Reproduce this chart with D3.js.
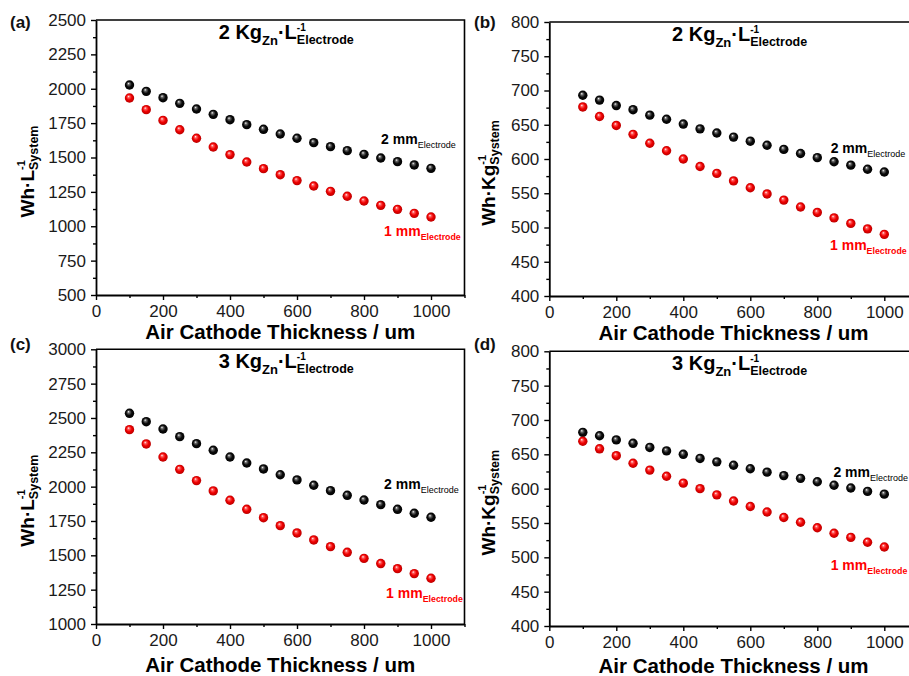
<!DOCTYPE html>
<html><head><meta charset="utf-8">
<script src="https://cdn.jsdelivr.net/npm/d3@7"></script>
<style>
body{margin:0;background:#fff}
svg{display:block}
text{font-family:"Liberation Sans",Arial,Helvetica,sans-serif}
</style>
</head><body>
<svg id="chart" width="909" height="676"></svg>
<script>
// ---------------- data ----------------
const thickness = [100,150,200,250,300,350,400,450,500,550,600,650,700,750,800,850,900,950,1000];

const a2mm = [2027,1981,1935,1894,1853,1814,1775,1739,1705,1671,1640,1608,1579,1550,1523,1496,1470,1446,1421];
const a1mm = [1933,1848,1770,1702,1640,1576,1521,1467,1419,1375,1332,1293,1254,1218,1184,1152,1123,1094,1067];

const b2mm = [693,686,678,672,664,658,651,644,638,632,626,620,614,608,602,596,591,585,581];
const b1mm = [676,662,649,636,623,612,600,589,579,568,558,549,540,530,522,514,506,498,490];

const c2mm = [2534,2473,2420,2364,2313,2265,2216,2172,2129,2087,2049,2010,1971,1937,1903,1869,1835,1806,1777];
const c1mm = [2415,2311,2216,2126,2044,1969,1901,1835,1774,1716,1663,1612,1563,1522,1478,1440,1403,1367,1333];

const d2mm = [682,677,671,666,660,655,650,644,639,634,629,624,619,615,610,605,601,596,592];
const d1mm = [669,658,648,637,627,618,608,600,591,582,574,566,558,551,543,535,529,522,515];

const xTickValues = [0,200,400,600,800,1000];
const xMinorValues = [100,300,500,700,900,1100];
const yTicksA = [500,750,1000,1250,1500,1750,2000,2250,2500];
const yTicksB = [400,450,500,550,600,650,700,750,800];
const yTicksC = [1000,1250,1500,1750,2000,2250,2500,2750,3000];
const yTicksD = [400,450,500,550,600,650,700,750,800];

const panelLetters = ["(a)","(b)","(c)","(d)"];
const loadings = ["2","2","3","3"];
const seriesNames = ["2 mm","1 mm"];
const xTitle = "Air Cathode Thickness / um";

// ---------------- layout ----------------
const panels = [
  {left:96,    top:20,    bottom:295,   ydom:[500,2500],  yt:yTicksA, s2:a2mm, s1:a1mm, unit:"L",
   lx:10,  ly:28,  ann2:[851,1598], ann1:[860,929],  xtY:339, ylabX:34},
  {left:549.3, top:22,    bottom:296,   ydom:[400,800],   yt:yTicksB, s2:b2mm, s1:b1mm, unit:"Kg",
   lx:474, ly:28,  ann2:[840,609],  ann1:[838,467],  xtY:340, ylabX:495},
  {left:96,    top:349.3, bottom:624,   ydom:[1000,3000], yt:yTicksC, s2:c2mm, s1:c1mm, unit:"L",
   lx:10,  ly:350, ann2:[860,1985], ann1:[866,1187], xtY:672, ylabX:34},
  {left:549.3, top:351.3, bottom:626,   ydom:[400,800],   yt:yTicksD, s2:d2mm, s1:d1mm, unit:"Kg",
   lx:474, ly:350, ann2:[848,617],  ann1:[840,482],  xtY:673, ylabX:495}
];
const xDomain = [0,1100];
const pxPer1000 = 335;

const svg = d3.select("#chart");
const defs = svg.append("defs");
function sphereGrad(id, c0, c1, c2){
  const g = defs.append("radialGradient").attr("id",id)
    .attr("cx","50%").attr("cy","50%").attr("r","55%").attr("fx","38%").attr("fy","32%");
  g.append("stop").attr("offset","0").attr("stop-color","#ffffff");
  g.append("stop").attr("offset","0.22").attr("stop-color",c0);
  g.append("stop").attr("offset","0.55").attr("stop-color",c1);
  g.append("stop").attr("offset","1").attr("stop-color",c2);
}
sphereGrad("gBlack","#6a6a6a","#0a0a0a","#000000");
sphereGrad("gRed","#ff5a5a","#ee0000","#b00000");

function rich(parent, parts, attrs){
  const text = parent.append("text");
  Object.entries(attrs).forEach(([k,v])=>text.attr(k,v));
  let cur = 0, prevW = 0;
  parts.forEach(p=>{
    const ts = text.append("tspan").text(p.t)
      .attr("font-size",p.size).attr("font-weight",p.weight||"bold");
    const off = -(p.rise||0);
    ts.attr("dy", off-cur); cur = off;
    if(p.stack) ts.attr("dx", -prevW);
    prevW = ts.node().getComputedTextLength();
  });
  return text;
}

panels.forEach((P,i)=>{
  const width = (xDomain[1]-xDomain[0])/1000*pxPer1000;
  const x = d3.scaleLinear().domain(xDomain).range([P.left, P.left+width]);
  const y = d3.scaleLinear().domain(P.ydom).range([P.bottom, P.top]);
  const g = svg.append("g");

  // frame top + right
  g.append("path")
    .attr("d",`M${P.left},${P.top}H${P.left+width}V${P.bottom}`)
    .attr("fill","none").attr("stroke","#000").attr("stroke-width",1.6);

  // minor ticks
  const yMinor = d3.range(P.ydom[0]+(P.yt[1]-P.yt[0])/2, P.ydom[1], P.yt[1]-P.yt[0]);
  g.append("g").attr("transform",`translate(${P.left},0)`)
    .call(d3.axisLeft(y).tickValues(yMinor).tickSize(3).tickFormat(""))
    .call(s=>s.select(".domain").remove())
    .selectAll("line").attr("stroke","#000").attr("stroke-width",1.4);
  g.append("g").attr("transform",`translate(0,${P.bottom})`)
    .call(d3.axisBottom(x).tickValues(xMinorValues).tickSize(3).tickFormat(""))
    .call(s=>s.select(".domain").remove())
    .selectAll("line").attr("stroke","#000").attr("stroke-width",1.4);

  // major axes
  const ya = g.append("g").attr("transform",`translate(${P.left},0)`)
    .call(d3.axisLeft(y).tickValues(P.yt).tickSize(5).tickSizeOuter(0).tickPadding(5).tickFormat(d3.format("d")));
  const xa = g.append("g").attr("transform",`translate(0,${P.bottom})`)
    .call(d3.axisBottom(x).tickValues(xTickValues).tickSize(5).tickSizeOuter(0).tickPadding(5).tickFormat(d3.format("d")));
  [ya,xa].forEach(a=>{
    a.select(".domain").attr("stroke","#000").attr("stroke-width",1.8);
    a.selectAll(".tick line").attr("stroke","#000").attr("stroke-width",1.4);
    a.selectAll(".tick text").attr("font-size",17).attr("fill","#1a1a1a")
      .attr("font-family",'"Liberation Sans",Arial,sans-serif');
  });

  // data points
  const pts = [[P.s2,"url(#gBlack)"],[P.s1,"url(#gRed)"]];
  pts.forEach(([vals,fill])=>{
    g.append("g").selectAll("circle").data(vals).join("circle")
      .attr("cx",(d,k)=>x(thickness[k])).attr("cy",d=>y(d))
      .attr("r",4.7).attr("fill",fill);
  });

  // panel letter
  g.append("text").attr("x",P.lx).attr("y",P.ly).attr("font-size",17)
    .attr("font-weight","bold").attr("fill","#111").text(panelLetters[i]);

  // panel title
  rich(g,[
    {t:loadings[i]+" Kg", size:20},
    {t:"Zn", size:13, rise:-6},
    {t:"·L", size:20},
    {t:"-1", size:10, rise:8},
    {t:"Electrode", size:12.5, rise:-5, stack:true}
  ],{x:x(568), y:P.top+19, "text-anchor":"middle", fill:"#000"});

  // y label
  const ylParts = P.unit==="L"
    ? [{t:"Wh·L", size:19},{t:"-1",size:11,rise:9},{t:"System",size:12.5,rise:-4,stack:true}]
    : [{t:"Wh·Kg", size:19},{t:"-1",size:11,rise:9},{t:"System",size:12.5,rise:-4,stack:true}];
  rich(g, ylParts, {transform:`translate(${P.ylabX},${(P.top+P.bottom)/2+14}) rotate(-90)`,
    "text-anchor":"middle", fill:"#000"});

  // x title
  g.append("text").attr("x",x(550)).attr("y",P.xtY).attr("text-anchor","middle")
    .attr("font-size",20.5).attr("font-weight","bold").attr("fill","#000").text(xTitle);

  // series annotations
  rich(g,[{t:seriesNames[0],size:14},{t:"Electrode",size:9,weight:"normal",rise:-4}],
    {x:x(P.ann2[0]), y:y(P.ann2[1]), fill:"#000"});
  rich(g,[{t:seriesNames[1],size:14},{t:"Electrode",size:8.8,weight:"bold",rise:-4}],
    {x:x(P.ann1[0]), y:y(P.ann1[1]), fill:"#ff0000"});
});
</script>
</body></html>
